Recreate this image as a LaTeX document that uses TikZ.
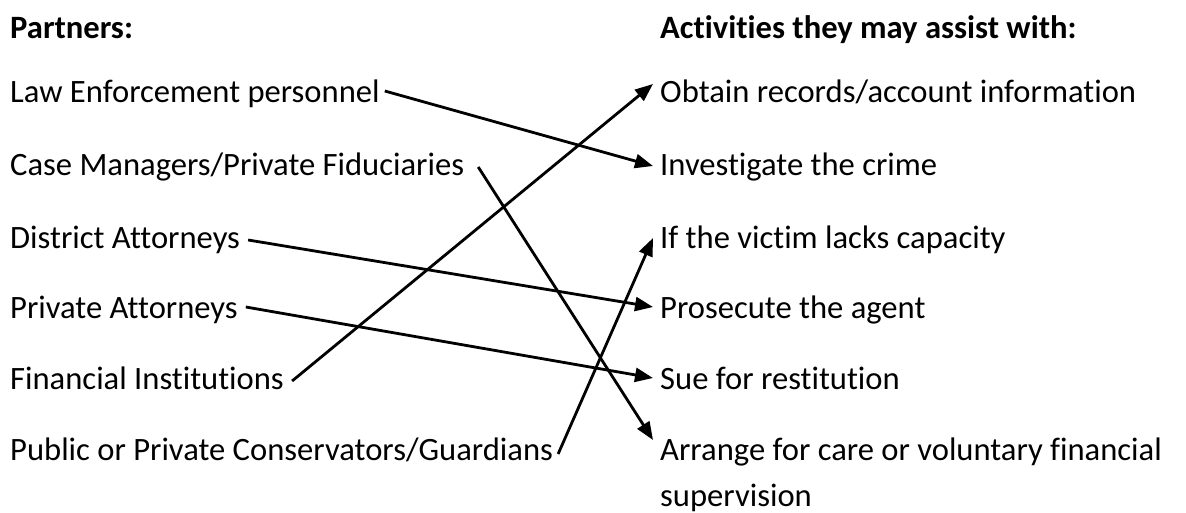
\documentclass[tikz,border=0pt]{standalone}
\usepackage{fontspec}
\setmainfont{Carlito}[Ligatures={NoCommon}]
\usetikzlibrary{arrows.meta,calc}
\begin{document}
\begin{tikzpicture}[x=1pt,y=-1pt,
  txt/.style={anchor=base west,inner sep=0pt,font=\fontsize{32.6}{45.5}\selectfont},
  hd/.style={anchor=base west,inner sep=0pt,font=\fontsize{32.6}{45.5}\selectfont\bfseries},
  link/.style={line width=2.8pt,-{Triangle[length=18pt,width=14pt]}}]
\useasboundingbox (0,0) rectangle (1186,513);
% headings
\node[hd] (hl) at (10,39) {Partners:};
\node[hd] (hr) at (660,39) {Activities they may assist with:};
% partners
\node[txt] (law) at (10,103) {Law Enforcement personnel};
\node[txt] (case) at (10,176) {Case Managers/Private Fiduciaries};
\node[txt] (da) at (10,248) {District Attorneys};
\node[txt] (pa) at (10,318) {Private Attorneys};
\node[txt] (fi) at (10,389) {Financial Institutions};
\node[txt] (pub) at (10,460) {Public or Private Conservators/Guardians};
% activities
\node[txt] (obt) at (660,103) {Obtain records/account information};
\node[txt] (inv) at (660,176) {Investigate the crime};
\node[txt] (cap) at (660,248) {If the victim lacks capacity};
\node[txt] (pros) at (660,318) {Prosecute the agent};
\node[txt] (sue) at (660,389) {Sue for restitution};
\node[txt] (arr) at (660,460) {Arrange for care or voluntary financial};
\node[txt] (arr2) at (660,506) {supervision};
% connectors
\draw[link] ($(law.base east)+(5,-12)$) -- ($(inv.base west)+(-7,-10)$);
\draw[link] ($(case.base east)+(14,-9)$) -- ($(arr.base west)+(-7,-20)$);
\draw[link] ($(da.base east)+(8,-8)$) -- ($(pros.base west)+(-7,-11)$);
\draw[link] ($(pa.base east)+(8,-11)$) -- ($(sue.base west)+(-7,-11)$);
\draw[link] ($(fi.base east)+(8,-8)$) -- ($(obt.base west)+(-7,-19)$);
\draw[link] ($(pub.base east)+(5,-6)$) -- ($(cap.base west)+(-7,-10)$);
\end{tikzpicture}
\end{document}
